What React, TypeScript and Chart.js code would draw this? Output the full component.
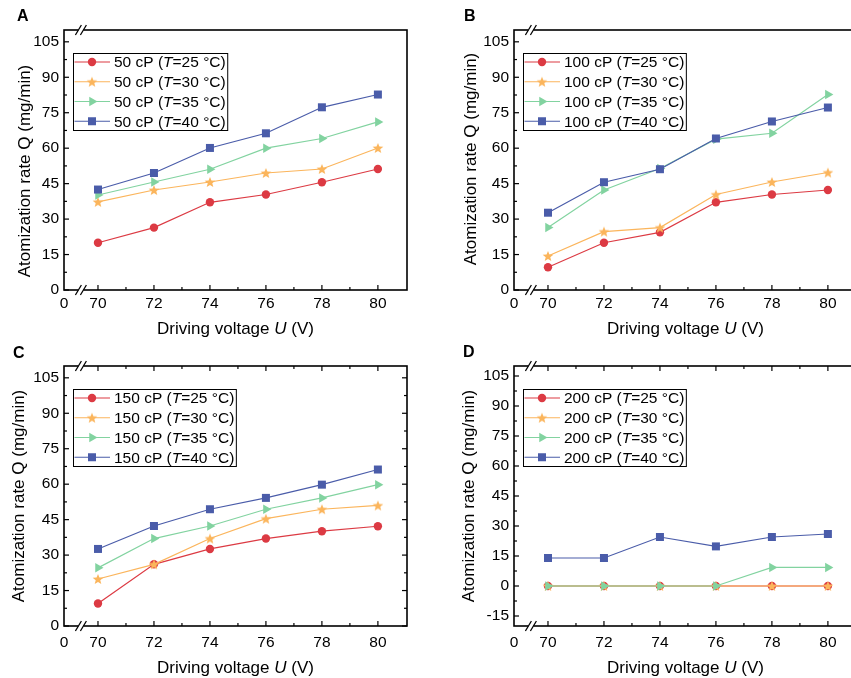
import React, { useEffect, useRef } from 'react';
import { Chart, registerables } from 'chart.js';

Chart.register(...registerables);

// ---------- data ----------
const voltages = [70, 72, 74, 76, 78, 80];
const xTickValues = [70, 72, 74, 76, 78, 80];
const xMinorValues = [71, 73, 75, 77, 79];
const yTicksMain = [0, 15, 30, 45, 60, 75, 90, 105];
const yTicksD = [-15, 0, 15, 30, 45, 60, 75, 90, 105];
const temperatures = ['25', '30', '35', '40'];

const a25 = [20.0, 26.4, 37.1, 40.4, 45.6, 51.2];
const a30 = [37.3, 42.3, 45.7, 49.5, 51.2, 60.1];
const a35 = [40.2, 45.7, 51.1, 60.0, 64.1, 71.1];
const a40 = [42.5, 49.5, 60.1, 66.3, 77.3, 82.7];

const b25 = [9.6, 20.0, 24.4, 37.1, 40.4, 42.3];
const b30 = [14.4, 24.7, 26.4, 40.4, 45.7, 49.7];
const b35 = [26.4, 42.3, 51.4, 63.8, 66.3, 82.7];
const b40 = [32.7, 45.6, 51.1, 64.1, 71.3, 77.2];

const c25 = [9.5, 26.1, 32.6, 37.0, 40.1, 42.2];
const c30 = [19.9, 26.1, 37.0, 45.4, 49.4, 51.0];
const c35 = [24.6, 37.0, 42.3, 49.4, 54.2, 59.8];
const c40 = [32.6, 42.3, 49.4, 54.2, 59.8, 66.2];

const d25 = [0, 0, 0, 0, 0, 0];
const d30 = [0, 0, 0, 0, 0, 0];
const d35 = [0, 0, 0, 0, 9.3, 9.3];
const d40 = [14.0, 14.0, 24.5, 19.8, 24.5, 26.0];

// ---------- style ----------
const FONT = '"Liberation Sans", Arial, sans-serif';
const COLORS = ['#dc3a43', '#fbb55c', '#82d3a0', '#4a5ca9'];
const X_MIN = 68.786;
const X_MAX = 81.04;
const X_BREAK = 69.39;

type PanelCfg = {
  letter: string;
  viscosity: string;
  series: number[][];
  yMin: number;
  yMax: number;
  yTicks: number[];
  mirror: boolean;
  left: number;
  top: number;
  width: number;
  height: number;
  yTitleX: number;
  yTitleY: number;
  xTitleBase: number;
  xTickPad: number;
  letterX: number;
  letterBase: number;
};

const panels: PanelCfg[] = [
  { letter: 'A', viscosity: '50', series: [a25, a30, a35, a40], yMin: 0, yMax: 110, yTicks: yTicksMain, mirror: false,
    left: 0, top: 0, width: 450, height: 345, yTitleX: 25, yTitleY: 171, xTitleBase: 334, xTickPad: 4, letterX: 17, letterBase: 21 },
  { letter: 'B', viscosity: '100', series: [b25, b30, b35, b40], yMin: 0, yMax: 110, yTicks: yTicksMain, mirror: false,
    left: 450, top: 0, width: 450, height: 345, yTitleX: 21, yTitleY: 159, xTitleBase: 334, xTickPad: 4, letterX: 14, letterBase: 21 },
  { letter: 'C', viscosity: '150', series: [c25, c30, c35, c40], yMin: 0, yMax: 110, yTicks: yTicksMain, mirror: true,
    left: 0, top: 336, width: 450, height: 342, yTitleX: 19, yTitleY: 160, xTitleBase: 337, xTickPad: 7, letterX: 13, letterBase: 22 },
  { letter: 'D', viscosity: '200', series: [d25, d30, d35, d40], yMin: -20, yMax: 110, yTicks: yTicksD, mirror: true,
    left: 450, top: 336, width: 450, height: 342, yTitleX: 19, yTitleY: 160, xTitleBase: 337, xTickPad: 7, letterX: 13, letterBase: 21 },
];

function makeStar(color: string, R: number, r: number): HTMLCanvasElement {
  const size = 12;
  const c = document.createElement('canvas');
  c.width = size;
  c.height = size;
  const g = c.getContext('2d')!;
  g.fillStyle = color;
  g.beginPath();
  for (let k = 0; k < 10; k++) {
    const ang = -Math.PI / 2 + (k * Math.PI) / 5;
    const rad = k % 2 === 0 ? R : r;
    g.lineTo(size / 2 + rad * Math.cos(ang), size / 2 + 0.5 + rad * Math.sin(ang));
  }
  g.closePath();
  g.fill();
  return c;
}

function drawMarker(ctx: CanvasRenderingContext2D, i: number, x: number, y: number, star: HTMLCanvasElement) {
  ctx.save();
  ctx.fillStyle = COLORS[i];
  ctx.beginPath();
  if (i === 0) {
    ctx.arc(x, y, 4.2, 0, Math.PI * 2);
    ctx.fill();
  } else if (i === 1) {
    ctx.drawImage(star, x - star.width / 2, y - star.height / 2);
  } else if (i === 2) {
    const r = 5.5;
    for (let k = 0; k < 3; k++) {
      const a = (k * 2 * Math.PI) / 3;
      ctx.lineTo(x + r * Math.cos(a), y + r * Math.sin(a));
    }
    ctx.closePath();
    ctx.fill();
  } else {
    ctx.fillRect(x - 4, y - 4, 8, 8);
  }
  ctx.restore();
}

function Panel({ cfg }: { cfg: PanelCfg }) {
  const ref = useRef<HTMLCanvasElement>(null);
  useEffect(() => {
    const canvas = ref.current!;
    const star = makeStar(COLORS[1], 5.6, 2.4);
    const styles: any[] = ['circle', star, 'triangle', 'rect'];
    const radii = [4.2, 5.5, 5.5, 5.66];

    const datasets = cfg.series.map((vals, i) => ({
      label: `${cfg.viscosity} cP (T=${temperatures[i]} °C)`,
      data: voltages.map((x, j) => ({ x, y: vals[j] })),
      borderColor: COLORS[i],
      backgroundColor: COLORS[i],
      borderWidth: 1.2,
      pointStyle: styles[i],
      pointRadius: radii[i],
      pointRotation: i === 2 ? 90 : 0,
      pointBorderWidth: 0,
      pointBackgroundColor: COLORS[i],
      order: 4 - i,
      tension: 0,
    }));

    const line = (ctx: CanvasRenderingContext2D, x1: number, y1: number, x2: number, y2: number) => {
      ctx.beginPath();
      ctx.moveTo(x1, y1);
      ctx.lineTo(x2, y2);
      ctx.stroke();
    };

    const yMinor: number[] = [];
    cfg.yTicks.forEach((v) => {
      const m = v + 7.5;
      if (m < cfg.yMax) yMinor.push(m);
    });
    if (cfg.yTicks[0] - 7.5 > cfg.yMin) yMinor.push(cfg.yTicks[0] - 7.5);

    const framePlugin = {
      id: 'frame' + cfg.letter,
      beforeDatasetsDraw(chart: any) {
        const ctx: CanvasRenderingContext2D = chart.ctx;
        const { left, right, top, bottom } = chart.chartArea;
        const xs = chart.scales.x;
        const ys = chart.scales.y;
        ctx.save();
        ctx.strokeStyle = '#000';
        ctx.lineWidth = 1.6;
        ctx.strokeRect(left, top, right - left, bottom - top);
        ctx.lineWidth = 1.2;
        const maj = 5;
        const mnr = 3;
        xTickValues.forEach((v) => {
          const p = xs.getPixelForValue(v);
          line(ctx, p, bottom, p, bottom - maj);
          if (cfg.mirror) line(ctx, p, top, p, top + maj);
        });
        xMinorValues.forEach((v) => {
          const p = xs.getPixelForValue(v);
          line(ctx, p, bottom, p, bottom - mnr);
          if (cfg.mirror) line(ctx, p, top, p, top + mnr);
        });
        cfg.yTicks.forEach((v) => {
          const p = ys.getPixelForValue(v);
          line(ctx, left, p, left + maj, p);
          if (cfg.mirror) line(ctx, right, p, right - maj, p);
        });
        yMinor.forEach((v) => {
          const p = ys.getPixelForValue(v);
          line(ctx, left, p, left + mnr, p);
          if (cfg.mirror) line(ctx, right, p, right - mnr, p);
        });
        // axis break marks
        const bx = xs.getPixelForValue(X_BREAK);
        [bottom, top].forEach((y) => {
          ctx.fillStyle = '#fff';
          ctx.fillRect(bx - 2.5, y - 1.5, 5, 3);
          ctx.lineWidth = 1.3;
          [-2.5, 2.5].forEach((dx) => line(ctx, bx + dx - 3, y + 5, bx + dx + 3, y - 5));
        });
        ctx.restore();
      },
      afterDatasetsDraw(chart: any) {
        const ctx: CanvasRenderingContext2D = chart.ctx;
        const { left, right } = chart.chartArea;
        ctx.save();
        // legend
        const reg = `15.5px ${FONT}`;
        const ital = `italic 15.5px ${FONT}`;
        const textX = left + 50;
        const rows = temperatures.map((t) => [`${cfg.viscosity} cP (`, 'T', `=${t} °C)`]);
        let maxW = 0;
        rows.forEach((r) => {
          ctx.font = reg;
          let w = ctx.measureText(r[0]).width + ctx.measureText(r[2]).width;
          ctx.font = ital;
          w += ctx.measureText(r[1]).width;
          maxW = Math.max(maxW, w);
        });
        const bx0 = left + 9.5;
        const by0 = 53.5;
        const bx1 = textX + maxW + 2;
        const by1 = 130.5;
        ctx.fillStyle = '#fff';
        ctx.fillRect(bx0, by0, bx1 - bx0, by1 - by0);
        ctx.strokeStyle = '#000';
        ctx.lineWidth = 1;
        ctx.strokeRect(bx0, by0, bx1 - bx0, by1 - by0);
        rows.forEach((r, i) => {
          const y = 62 + i * 19.75;
          ctx.strokeStyle = COLORS[i];
          ctx.lineWidth = 1.2;
          line(ctx, bx0 + 1, y, left + 46, y);
          drawMarker(ctx, i, left + 28, y, star);
          ctx.fillStyle = '#000';
          ctx.textBaseline = 'middle';
          ctx.textAlign = 'left';
          let x = textX;
          ctx.font = reg;
          ctx.fillText(r[0], x, y + 1);
          x += ctx.measureText(r[0]).width;
          ctx.font = ital;
          ctx.fillText(r[1], x, y + 1);
          x += ctx.measureText(r[1]).width;
          ctx.font = reg;
          ctx.fillText(r[2], x, y + 1);
        });
        // x title
        ctx.fillStyle = '#000';
        ctx.textBaseline = 'alphabetic';
        ctx.textAlign = 'left';
        const p1 = 'Driving voltage ';
        const p2 = 'U';
        const p3 = ' (V)';
        ctx.font = `17px ${FONT}`;
        const w1 = ctx.measureText(p1).width;
        const w3 = ctx.measureText(p3).width;
        ctx.font = `italic 17px ${FONT}`;
        const w2 = ctx.measureText(p2).width;
        let x = (left + right) / 2 - (w1 + w2 + w3) / 2;
        ctx.font = `17px ${FONT}`;
        ctx.fillText(p1, x, cfg.xTitleBase);
        x += w1;
        ctx.font = `italic 17px ${FONT}`;
        ctx.fillText(p2, x, cfg.xTitleBase);
        x += w2;
        ctx.font = `17px ${FONT}`;
        ctx.fillText(p3, x, cfg.xTitleBase);
        // y title
        ctx.save();
        ctx.translate(cfg.yTitleX, cfg.yTitleY);
        ctx.rotate(-Math.PI / 2);
        ctx.textAlign = 'center';
        ctx.textBaseline = 'middle';
        ctx.font = `17px ${FONT}`;
        ctx.fillText('Atomization rate Q (mg/min)', 0, 0);
        ctx.restore();
        // panel letter
        ctx.font = `bold 16px ${FONT}`;
        ctx.textAlign = 'left';
        ctx.textBaseline = 'alphabetic';
        ctx.fillText(cfg.letter, cfg.letterX, cfg.letterBase);
        ctx.restore();
      },
    };

    const chart = new Chart(canvas, {
      type: 'line',
      data: { datasets },
      options: {
        animation: false,
        responsive: false,
        maintainAspectRatio: false,
        layout: { padding: { left: 0, top: 30, right: cfg.width - 407, bottom: 0 } },
        plugins: { legend: { display: false }, tooltip: { enabled: false } },
        scales: {
          x: {
            type: 'linear',
            min: X_MIN,
            max: X_MAX,
            grid: { display: false, drawTicks: false },
            border: { display: false },
            afterBuildTicks: (scale: any) => {
              scale.ticks = [{ value: X_MIN }, ...xTickValues.map((v) => ({ value: v }))];
            },
            afterFit: (scale: any) => {
              scale.height = cfg.height - 290;
            },
            ticks: {
              autoSkip: false,
              maxRotation: 0,
              padding: cfg.xTickPad,
              color: '#000',
              font: { family: FONT, size: 15.5 },
              callback: (v: any, idx: number) => (idx === 0 ? '0' : String(v)),
            },
          },
          y: {
            type: 'linear',
            min: cfg.yMin,
            max: cfg.yMax,
            grid: { display: false, drawTicks: false },
            border: { display: false },
            afterBuildTicks: (scale: any) => {
              scale.ticks = cfg.yTicks.map((v) => ({ value: v }));
            },
            afterFit: (scale: any) => {
              scale.width = 64;
            },
            ticks: {
              autoSkip: false,
              padding: 5,
              color: '#000',
              font: { family: FONT, size: 15.5 },
              callback: (v: any) => String(v),
            },
          },
        },
      },
      plugins: [framePlugin],
    } as any);
    return () => chart.destroy();
  }, [cfg]);
  return (
    <canvas
      ref={ref}
      width={cfg.width}
      height={cfg.height}
      style={{ position: 'absolute', left: cfg.left, top: cfg.top, width: cfg.width, height: cfg.height }}
    />
  );
}

export default function App() {
  return (
    <div style={{ position: 'absolute', left: 0, top: 0, width: 851, height: 678, overflow: 'hidden', background: '#fff' }}>
      {panels.map((p) => (
        <Panel key={p.letter} cfg={p} />
      ))}
    </div>
  );
}
